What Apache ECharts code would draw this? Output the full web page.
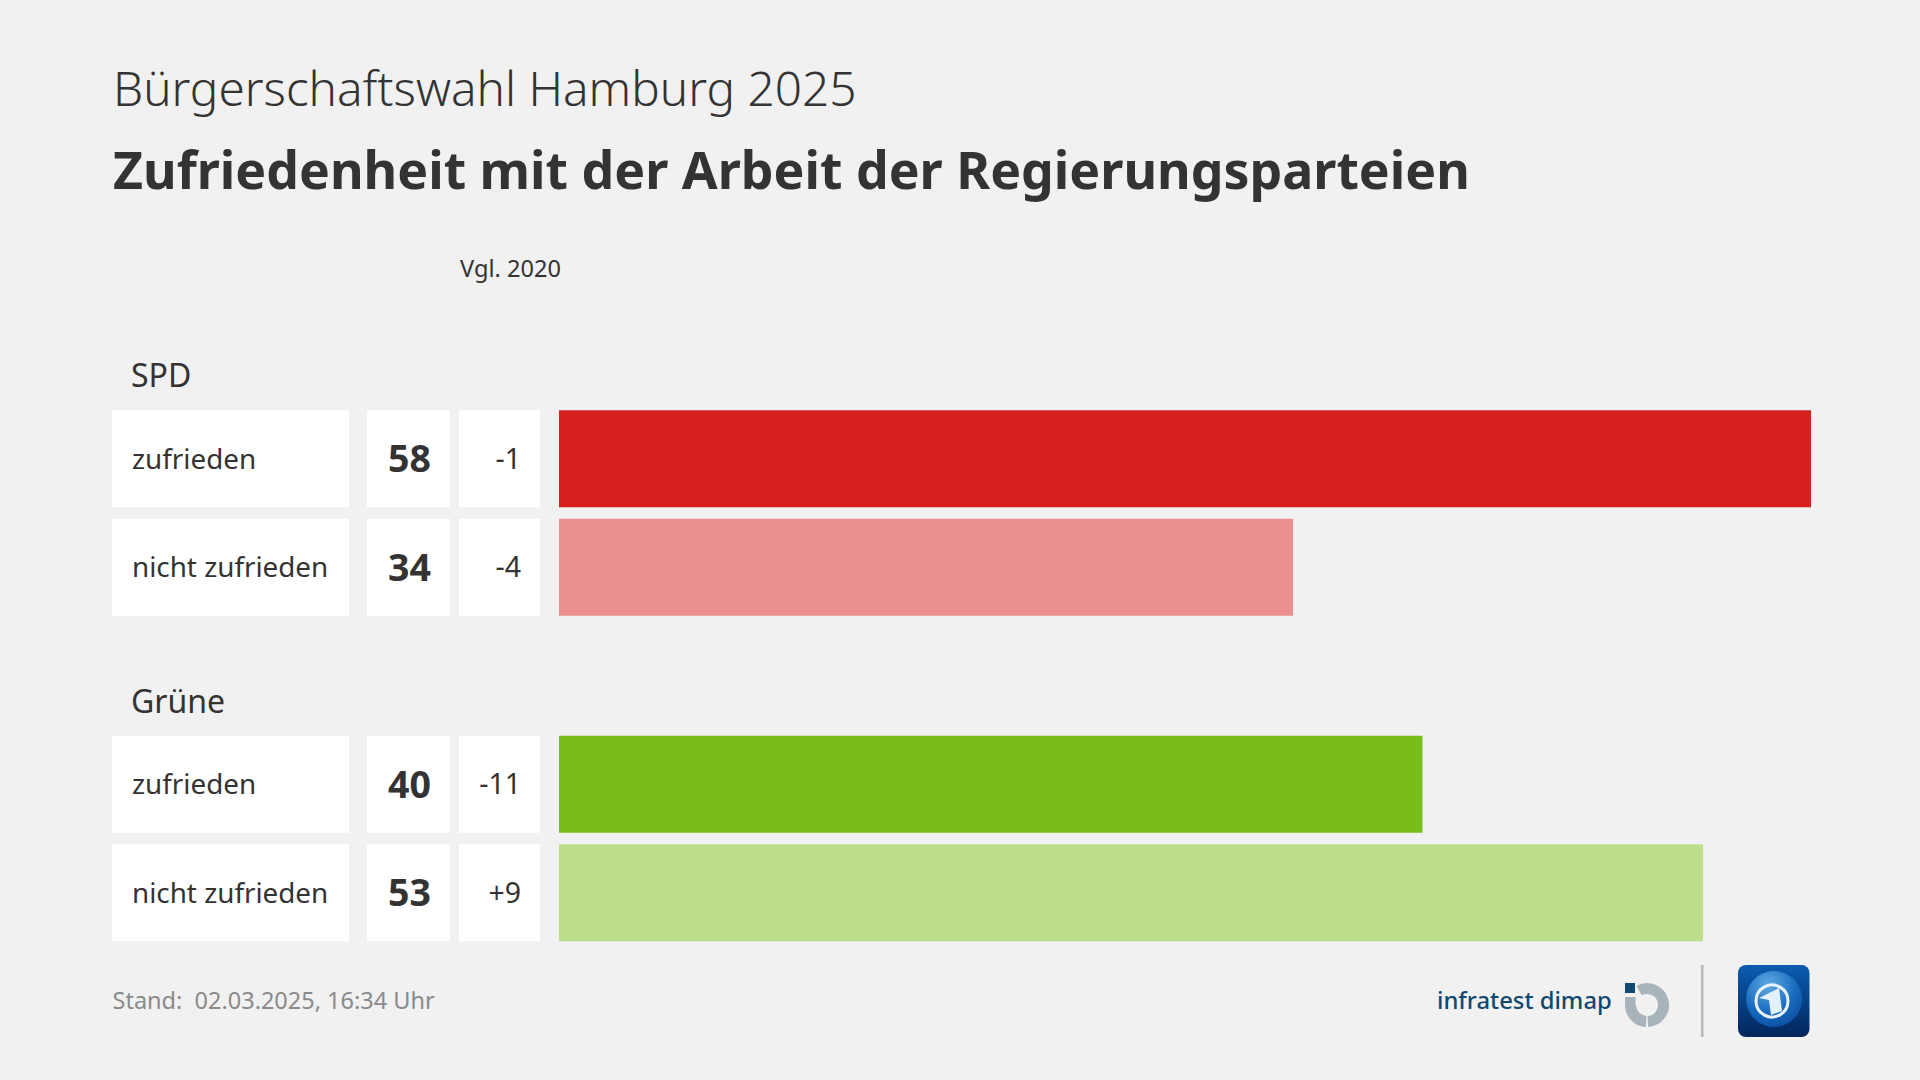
<!DOCTYPE html>
<html lang="de">
<head>
<meta charset="utf-8" />
<title>Bürgerschaftswahl Hamburg 2025</title>
<script src="https://cdn.jsdelivr.net/npm/echarts@6/dist/echarts.min.js"></script>
<style>
  html, body { margin: 0; padding: 0; background: #f1f1f1; }
  #main { width: 1920px; height: 1080px; }
</style>
</head>
<body>
<div id="main"></div>
<script type="text/javascript">
  // the empty slot is the gap between the two party blocks
  const categories = ['zufrieden', 'nicht zufrieden', '', 'zufrieden', 'nicht zufrieden'];
  const shares = [58, 34, null, 40, 53];
  const changes = ['-1', '-4', '', '-11', '+9'];
  const parties = ['SPD', 'Grüne'];
  const cells = [1, 1, null, 1, 1];

  const FONT = '"Noto Sans", sans-serif';
  const TEXT = '#333333';
  const barColors = ['#d81f1f', '#eb8f8f', null, '#79bd1a', '#bcde8c'];

  const TOP = 404.5;
  const PLOT_H = 542.5;
  const BAR_H = 97.2;

  const myChart = echarts.init(document.getElementById('main'), null, { renderer: 'svg' });

  // columns of the table left of the bars, plus the bar area itself
  const columns = [
    { left: 112, width: 237 },
    { left: 367, width: 83 },
    { left: 459, width: 81 },
    { left: 559, width: 1252 }
  ];

  const cellSeries = (idx, label) => ({
    type: 'bar',
    xAxisIndex: idx,
    yAxisIndex: idx,
    data: cells,
    barWidth: BAR_H,
    silent: true,
    itemStyle: { color: '#ffffff' },
    label: Object.assign({ show: true, fontFamily: FONT, color: TEXT, offset: [0, -1] }, label)
  });

  const textLabel = (text, x, y, size, extra) => ({
    type: 'text',
    x: x,
    y: y,
    style: Object.assign({
      text: text,
      fontFamily: FONT,
      fontSize: size,
      fill: TEXT,
      textVerticalAlign: 'middle'
    }, extra || {})
  });

  const option = {
    backgroundColor: '#f1f1f1',
    animation: false,
    grid: columns.map((c) => ({ left: c.left, width: c.width, top: TOP, height: PLOT_H })),
    xAxis: columns.map((c, i) => ({
      type: 'value',
      gridIndex: i,
      min: 0,
      max: i === 3 ? 58 : 1,
      show: false
    })),
    yAxis: columns.map((c, i) => ({
      type: 'category',
      gridIndex: i,
      data: categories,
      inverse: true,
      show: false
    })),
    series: [
      cellSeries(0, {
        position: 'insideLeft',
        distance: 20,
        fontSize: 27.8,
        formatter: (p) => categories[p.dataIndex]
      }),
      cellSeries(1, {
        position: 'inside',
        fontSize: 37.5,
        fontWeight: 'bold',
        offset: [1, -1],
        formatter: (p) => shares[p.dataIndex]
      }),
      cellSeries(2, {
        position: 'insideRight',
        distance: 19,
        fontSize: 28.5,
        formatter: (p) => changes[p.dataIndex]
      }),
      {
        type: 'bar',
        xAxisIndex: 3,
        yAxisIndex: 3,
        barWidth: BAR_H,
        silent: true,
        data: shares.map((v, i) => ({ value: v, itemStyle: { color: barColors[i] } }))
      }
    ],
    graphic: [
      textLabel('Bürgerschaftswahl Hamburg 2025', 113, 87.5, 47.7, { fontWeight: 300 }),
      textLabel('Zufriedenheit mit der Arbeit der Regierungsparteien', 113, 169, 51.8, { fontWeight: 'bold' }),
      textLabel('Vgl. 2020', 460, 268, 23.6),
      textLabel(parties[0], 131, 374.5, 32),
      textLabel(parties[1], 131, 700, 32),
      textLabel('Stand:  02.03.2025, 16:34 Uhr', 112.5, 1000, 23.5, { fill: '#8a8a8a' }),

      // infratest dimap logo
      textLabel('infratest dimap', 1437, 1000, 23.8, { fill: '#10486f', fontWeight: 500 }),
      { type: 'rect', shape: { x: 1625, y: 983, width: 10, height: 10 }, style: { fill: '#10486f' } },
      {
        type: 'arc',
        shape: { cx: 1647, cy: 1005, r: 16.5, startAngle: -Math.PI / 2 - 0.5, endAngle: Math.PI / 2 - 0.05 },
        style: { stroke: '#a9b4ba', fill: 'none', lineWidth: 11 }
      },
      {
        type: 'arc',
        shape: { cx: 1647, cy: 1005, r: 16.5, startAngle: Math.PI / 2 + 0.05, endAngle: Math.PI },
        style: { stroke: '#a9b4ba', fill: 'none', lineWidth: 11 }
      },
      { type: 'rect', shape: { x: 1625, y: 997, width: 10.5, height: 8 }, style: { fill: '#a9b4ba' } },

      // separator
      { type: 'rect', shape: { x: 1701, y: 965, width: 2.5, height: 72 }, style: { fill: '#b9b9b9' } },

      // tagesschau icon
      {
        type: 'rect',
        shape: { x: 1738, y: 965, width: 71.5, height: 72, r: 8 },
        style: {
          fill: new echarts.graphic.LinearGradient(0, 0, 0, 1, [
            { offset: 0, color: '#0a5cb0' },
            { offset: 1, color: '#03265c' }
          ])
        }
      },
      {
        type: 'circle',
        shape: { cx: 1774, cy: 999, r: 28 },
        style: {
          fill: new echarts.graphic.RadialGradient(0.4, 0.25, 0.85, [
            { offset: 0, color: '#5fa9e2' },
            { offset: 0.6, color: '#1669bd' },
            { offset: 1, color: '#0a4a9c' }
          ])
        }
      },
      {
        type: 'circle',
        shape: { cx: 1772, cy: 1001, r: 16 },
        style: { fill: 'none', stroke: '#e8f2fa', lineWidth: 3 }
      },
      {
        type: 'polygon',
        shape: { points: [[1759, 998], [1779, 988], [1782, 1011], [1771, 1015], [1769, 1000]] },
        style: { fill: '#e4f0fa' }
      }
    ]
  };

  myChart.setOption(option);
</script>
</body>
</html>
